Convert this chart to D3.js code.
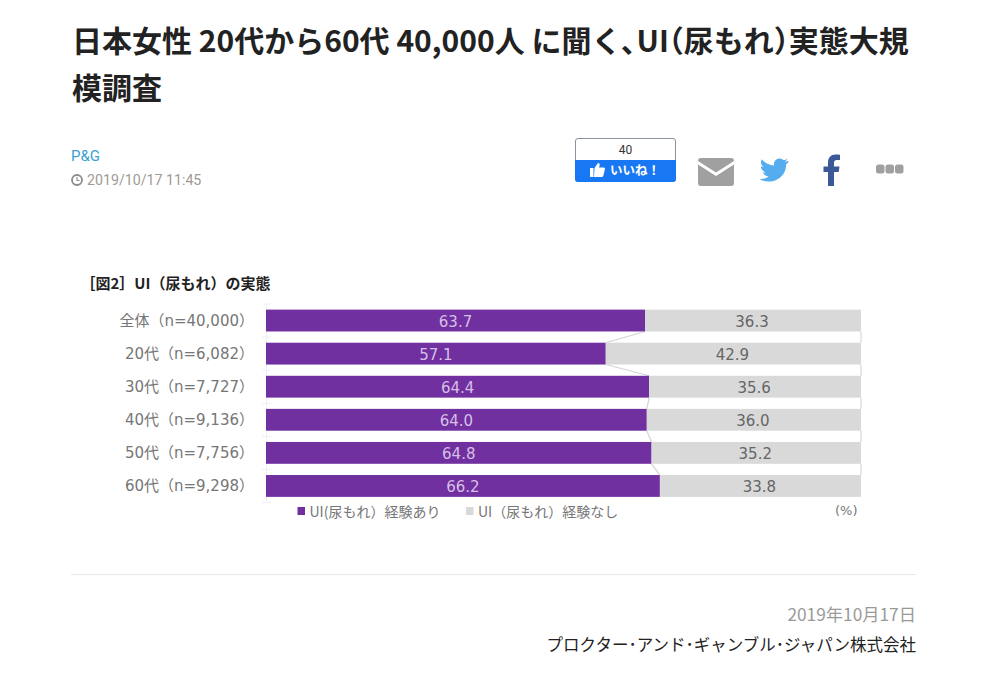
<!DOCTYPE html>
<html><head><meta charset="utf-8">
<script src="https://d3js.org/d3.v7.min.js"></script>
<style>html,body{margin:0;padding:0;background:#fff;overflow:hidden}svg{display:block}</style>
</head><body><svg id="c" width="985" height="673"></svg>
<script>
const categories=["全体(n=40,000)","20代(n=6,082)","30代(n=7,727)","40代(n=9,136)","50代(n=7,756)","60代(n=9,298)"];
const categoryLabels=["全体（n=40,000）","20代（n=6,082）","30代（n=7,727）","40代（n=9,136）","50代（n=7,756）","60代（n=9,298）"];
const experienced=[63.7,57.1,64.4,64.0,64.8,66.2];
const notExperienced=[36.3,42.9,35.6,36.0,35.2,33.8];
const seriesNames=["UI(尿もれ）経験あり","UI（尿もれ）経験なし"];
const titleParts=["日本女性 20代から60代 40,000人 に聞く､UI","（尿もれ）","実態大規"];
const titleLine2="模調査";
const jp='"Noto Sans CJK JP","Noto Sans",sans-serif';
const mix='"DejaVu Sans","Noto Sans CJK JP",sans-serif';
const svg=d3.select("#c");
const T=(x,y,s,size,fill,o={})=>svg.append("text").attr("x",x).attr("y",y).text(s)
  .attr("font-family",o.font||jp).attr("font-size",size).attr("fill",fill)
  .attr("font-weight",o.weight||400).attr("text-anchor",o.anchor||"start");

const tt=T(72,52,"",30,"#222",{weight:700});
titleParts.forEach((p,i)=>tt.append("tspan").attr("dx",i?-15:0).text(p));
T(72,99,titleLine2,30,"#222",{weight:700});
T(71,161,"P&G",15,"#3a9fd0",{font:"Roboto,sans-serif"});
svg.append("circle").attr("cx",77).attr("cy",180).attr("r",5).attr("fill","none").attr("stroke","#8c8c8c").attr("stroke-width",1.8);
svg.append("path").attr("d","M77 177V180.500H79.500").attr("fill","none").attr("stroke","#8c8c8c").attr("stroke-width",1.1);
T(87,185,"2019/10/17 11:45",14.200,"#a09a94",{font:"Roboto,sans-serif"});

// like button
svg.append("rect").attr("x",575.500).attr("y",138.500).attr("width",100).attr("height",43).attr("rx",2.500).attr("fill","#fff").attr("stroke","#8a93a0");
svg.append("path").attr("d","M575 160H676V179a3 3 0 0 1-3 3H578a3 3 0 0 1-3-3Z").attr("fill","#1877f2");
T(625.500,154,"40",12,"#333",{anchor:"middle",font:"Roboto,sans-serif"});
T(610,175,"いいね！",12.500,"#fff",{weight:700});
svg.append("path").attr("d","M590 168h3.500v9H590ZM594.500 168l3.500-5c1.500 0 2 1 1.600 2.500l-.5 2h4.700c1 0 1.400.8 1.100 1.700l-1.500 6.300c-.2.8-.8 1.500-1.700 1.500h-7.700Z").attr("fill","#fff");
// mail
svg.append("path").attr("d","M701 158H731a3 3 0 0 1 3 3L716 172.500L698 161a3 3 0 0 1 3-3Z").attr("fill","#a0a0a0");
svg.append("path").attr("d","M698 164.500L716 176L734 164.500V183a3 3 0 0 1-3 3H701a3 3 0 0 1-3-3Z").attr("fill","#a0a0a0");
// twitter
svg.append("path").attr("transform","translate(-1,0)").attr("d","M789 161c-1 .5-2.200.8-3.300 1 1.200-.7 2.100-1.900 2.600-3.200-1.100.7-2.400 1.200-3.700 1.400-2.500-2.600-7-2.200-8.800.8-.9 1.400-1 3-.6 4.500-5-.2-9.500-2.600-12.500-6.300-1.400 2.600-.7 6 1.900 7.800-1 0-1.900-.3-2.700-.7 0 2.900 2 5.300 4.800 5.900-.9.200-1.800.300-2.700.1.800 2.400 3 4.100 5.600 4.100-2.600 2-5.900 2.900-9.100 2.500 8.700 5.400 20.500 2.200 25-7 1.100-2.300 1.700-4.900 1.600-7.500 1.100-.8 2-1.800 2.700-2.900Z").attr("fill","#55acee");
// facebook
svg.append("path").attr("d","M828 186V172H823.500V166.500H828V162.500C828 157.500 831 154.500 835.500 154.500C837.500 154.500 839 154.700 840 154.800V160H837C834.800 160 834 161 834 162.800V166.500H839.500L838.700 172H834V186Z").attr("fill","#3b5998");
// dots
[876,885.500,895].forEach(px=>svg.append("rect").attr("x",px).attr("y",164.500).attr("width",8.500).attr("height",9).attr("rx",2.500).attr("fill","#a0a0a0"));

// chart
T(80.500,289,"［図2］UI（尿もれ）の実態",15,"#222",{weight:700});
const x=d3.scaleLinear().domain([0,100]).range([266,861]);
const y=d3.scaleBand().domain(categories).range([304,502.500]).paddingInner(0.34).paddingOuter(0.17);
const g=svg.append("g");
const axis=d3.axisLeft(d3.scaleBand().domain(categories).range([304,502.500])).tickSize(0).tickFormat("");
const ax=g.append("g").attr("transform","translate(266,0)").call(axis);
ax.select(".domain").attr("stroke","#eef0f6");
const edges=[0,1,2,3,4,5,6].map(i=>304+i*198.500/6);
g.selectAll(".edge").data(edges).join("line").attr("x1",262).attr("x2",271).attr("y1",d=>d).attr("y2",d=>d).attr("stroke","#eef0f6");
const conn=d3.pairs(categories.map((c,i)=>i));
g.selectAll(".c").data(conn).join("line")
 .attr("x1",d=>x(experienced[d[0]])).attr("y1",d=>y(categories[d[0]])+y.bandwidth())
 .attr("x2",d=>x(experienced[d[1]])).attr("y2",d=>y(categories[d[1]]))
 .attr("stroke","#d4d4d4").attr("stroke-width",1.2);
g.selectAll(".c2").data(conn).join("line")
 .attr("x1",x(100)).attr("y1",d=>y(categories[d[0]])+y.bandwidth())
 .attr("x2",x(100)).attr("y2",d=>y(categories[d[1]]))
 .attr("stroke","#cfcfcf").attr("stroke-width",1);
g.selectAll(".b1").data(categories).join("rect").attr("x",x(0)).attr("y",d=>y(d))
 .attr("width",(d,i)=>x(experienced[i])-x(0)).attr("height",y.bandwidth()).attr("fill","#7030a0");
g.selectAll(".b2").data(categories).join("rect").attr("x",(d,i)=>x(experienced[i])).attr("y",d=>y(d))
 .attr("width",(d,i)=>x(100)-x(experienced[i])).attr("height",y.bandwidth()).attr("fill","#d9d9d9");
const mid=d=>y(d)+y.bandwidth()/2+6.500;
g.selectAll(".l1").data(categories).join("text").attr("x",(d,i)=>x(experienced[i]/2)).attr("y",mid)
 .text((d,i)=>experienced[i].toFixed(1)).attr("text-anchor","middle").attr("font-family",mix).attr("font-size",15).attr("fill","#d6bfe6");
g.selectAll(".l2").data(categories).join("text").attr("x",(d,i)=>x(experienced[i]+notExperienced[i]/2)-1).attr("y",mid)
 .text((d,i)=>notExperienced[i].toFixed(1)).attr("text-anchor","middle").attr("font-family",mix).attr("font-size",15).attr("fill","#666");
g.selectAll(".cat").data(categories).join("text").attr("x",254).attr("y",d=>y(d)+y.bandwidth()/2+5.500)
 .text((d,i)=>categoryLabels[i]).attr("text-anchor","end").attr("font-family",mix).attr("font-size",15).attr("fill","#767676");
// legend
svg.append("rect").attr("x",297.500).attr("y",507).attr("width",7.500).attr("height",8).attr("fill","#7030a0");
T(309.500,517,seriesNames[0],14,"#767676");
svg.append("rect").attr("x",466).attr("y",507).attr("width",7.500).attr("height",8).attr("fill","#d9d9d9");
T(478,517,seriesNames[1],14,"#767676");
T(835,515,"(%)",13,"#767676",{font:mix});

// footer
svg.append("line").attr("x1",71).attr("x2",916).attr("y1",574.500).attr("y2",574.500).attr("stroke","#e8e8e8");
T(916,621,"2019年10月17日",17.300,"#9a9a9a",{anchor:"end"});
T(916,651,"プロクター･アンド･ギャンブル･ジャパン株式会社",16.500,"#222",{anchor:"end"});
</script></body></html>
